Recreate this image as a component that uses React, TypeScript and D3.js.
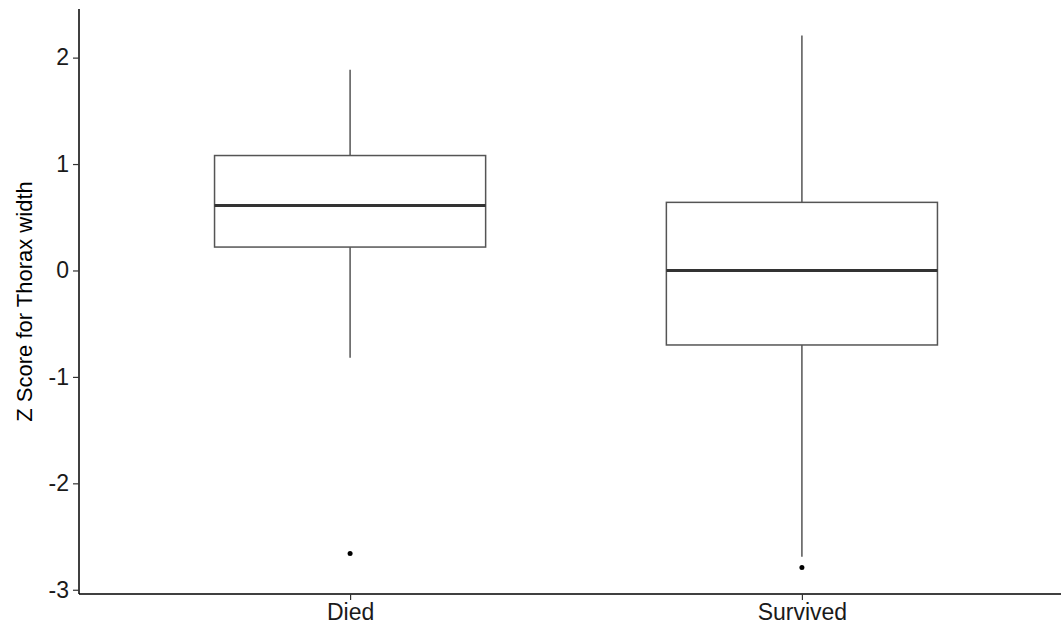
import React, { useEffect, useRef } from 'react';
import * as d3 from 'd3';

const categories = ['Died', 'Survived'];
const whiskerLow = [-0.82, -2.69];
const q1 = [0.22, -0.7];
const median = [0.61, 0.0];
const q3 = [1.08, 0.64];
const whiskerHigh = [1.885, 2.207];
const outliers = [[-2.66], [-2.79]];
const yTicks = [-3, -2, -1, 0, 1, 2];

const W = 1061;
const H = 630;

const App = () => {
  const ref = useRef<SVGSVGElement | null>(null);

  useEffect(() => {
    if (!ref.current) return;
    const svg = d3.select(ref.current);
    svg.selectAll('*').remove();

    const margin = { top: 9, left: 79, bottom: 36 };
    const plotBottom = H - margin.bottom;
    // panel runs past the right edge, as in the reference crop
    const plotRight = 1073;
    const font = 'Liberation Sans, Arial, sans-serif';

    const data = categories.map((c, i) => ({
      cat: c,
      lo: whiskerLow[i],
      q1: q1[i],
      med: median[i],
      q3: q3[i],
      hi: whiskerHigh[i],
      out: outliers[i],
    }));

    const allVals = data.flatMap(d => [d.lo, d.hi, ...d.out]);
    const ext = d3.extent(allVals) as [number, number];
    const pad = (ext[1] - ext[0]) * 0.05;

    const y = d3.scaleLinear()
      .domain([ext[0] - pad, ext[1] + pad])
      .range([plotBottom, margin.top]);

    // discrete scale with ggplot's 0.6 expansion
    const xc = d3.scaleLinear()
      .domain([0.4, categories.length + 0.6])
      .range([margin.left, plotRight]);
    const boxHalf = (xc(1.3) - xc(1)) ;

    const g = svg.append('g');

    // whiskers
    g.selectAll('.whisker')
      .data(data)
      .enter()
      .append('line')
      .attr('x1', (d, i) => xc(i + 1))
      .attr('x2', (d, i) => xc(i + 1))
      .attr('y1', d => y(d.lo))
      .attr('y2', d => y(d.hi))
      .attr('stroke', '#555')
      .attr('stroke-width', 1.5);

    // boxes
    g.selectAll('.box')
      .data(data)
      .enter()
      .append('rect')
      .attr('x', (d, i) => xc(i + 1) - boxHalf)
      .attr('width', boxHalf * 2)
      .attr('y', d => y(d.q3))
      .attr('height', d => y(d.q1) - y(d.q3))
      .attr('fill', '#fff')
      .attr('stroke', '#555')
      .attr('stroke-width', 1.5);

    // medians
    g.selectAll('.median')
      .data(data)
      .enter()
      .append('line')
      .attr('x1', (d, i) => xc(i + 1) - boxHalf)
      .attr('x2', (d, i) => xc(i + 1) + boxHalf)
      .attr('y1', d => y(d.med))
      .attr('y2', d => y(d.med))
      .attr('stroke', '#333')
      .attr('stroke-width', 3);

    // outliers
    data.forEach((d, i) => {
      g.selectAll(null)
        .data(d.out)
        .enter()
        .append('circle')
        .attr('cx', xc(i + 1))
        .attr('cy', v => y(v))
        .attr('r', 2.5)
        .attr('fill', '#000');
    });

    // y axis
    const yAxis = svg.append('g')
      .attr('transform', `translate(${margin.left},0)`)
      .call(d3.axisLeft(y).tickValues(yTicks).tickSize(6).tickPadding(4).tickFormat(d3.format('d')));
    yAxis.select('.domain')
      .attr('d', `M0,${margin.top}V${plotBottom}`)
      .attr('stroke', '#000')
      .attr('stroke-width', 1.5);
    yAxis.selectAll('.tick line').attr('stroke', '#333').attr('stroke-width', 1.2);
    yAxis.selectAll('.tick text')
      .style('font-family', font)
      .style('font-size', '23px')
      .style('fill', '#1a1a1a')
      .text(d => String(d).replace('-', '-'));

    // x axis
    const xAxis = svg.append('g')
      .attr('transform', `translate(0,${plotBottom})`)
      .call(d3.axisBottom(xc).tickValues(categories.map((c, i) => i + 1)).tickSize(6).tickPadding(4)
        .tickFormat((d) => categories[(d as number) - 1]));
    xAxis.select('.domain')
      .attr('d', `M${margin.left},0H${plotRight}`)
      .attr('stroke', '#000')
      .attr('stroke-width', 1.5);
    xAxis.selectAll('.tick line').attr('stroke', '#333').attr('stroke-width', 1.2);
    xAxis.selectAll('.tick text')
      .style('font-family', font)
      .style('font-size', '23px')
      .style('fill', '#1a1a1a');

    // y title
    svg.append('text')
      .attr('transform', `translate(32,${(margin.top + plotBottom) / 2}) rotate(-90)`)
      .attr('text-anchor', 'middle')
      .style('font-family', font)
      .style('font-size', '22px')
      .style('fill', '#000')
      .text('Z Score for Thorax width');
  }, []);

  return (
    <svg
      ref={ref}
      width={W}
      height={H}
      style={{ position: 'absolute', left: 0, top: 0, background: '#fff' }}
    />
  );
};

export default App;
